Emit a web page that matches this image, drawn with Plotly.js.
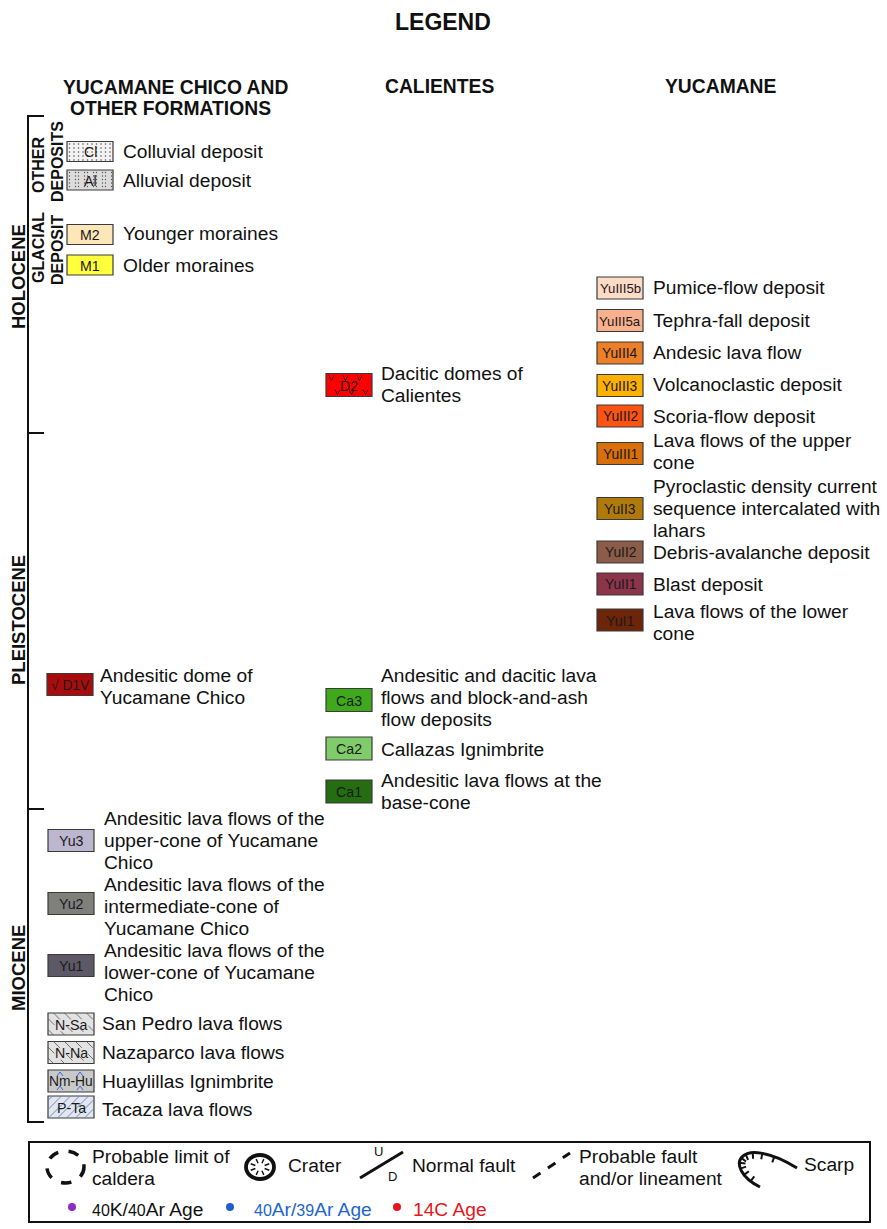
<!DOCTYPE html>
<html>
<head>
<meta charset="utf-8">
<script src="https://cdn.plot.ly/plotly-3.0.1.min.js"></script>
<style>html,body{margin:0;padding:0;background:#fff;}#chart{width:887px;height:1229px;}</style>
</head>
<body>
<div id="chart"></div>
<script>
// ---------- legend content ----------
const titleText = 'LEGEND';
const columnHeaders = ['YUCAMANE CHICO AND<br>OTHER FORMATIONS', 'CALIENTES', 'YUCAMANE'];
const epochs = ['HOLOCENE', 'PLEISTOCENE', 'MIOCENE'];
const subGroups = ['OTHER', 'DEPOSITS', 'GLACIAL', 'DEPOSIT'];

const chicoCodes = ['Cl', 'Al', 'M2', 'M1', 'D1V', 'Yu3', 'Yu2', 'Yu1', 'N-Sa', 'N-Na', 'Nm-Hu', 'P-Ta'];
const chicoLabels = [
  ['Colluvial deposit'], ['Alluvial deposit'], ['Younger moraines'], ['Older moraines'],
  ['Andesitic dome of', 'Yucamane Chico'],
  ['Andesitic lava flows of the', 'upper-cone of Yucamane', 'Chico'],
  ['Andesitic lava flows of the', 'intermediate-cone of', 'Yucamane Chico'],
  ['Andesitic lava flows of the', 'lower-cone of Yucamane', 'Chico'],
  ['San Pedro lava flows'], ['Nazaparco lava flows'], ['Huaylillas Ignimbrite'], ['Tacaza lava flows']
];
const chicoColors = ['#f3f3f3', '#dcdcdc', '#fde7b8', '#ffff3c', '#a80c0c', '#bcb6cf', '#7f7f7c', '#5d5866',
  '#e2e2e2', '#e2e2e2', '#c9c9c9', '#e4e6ee'];

const calientesCodes = ['D2', 'Ca3', 'Ca2', 'Ca1'];
const calientesLabels = [
  ['Dacitic domes of', 'Calientes'],
  ['Andesitic and dacitic lava', 'flows and block-and-ash', 'flow deposits'],
  ['Callazas Ignimbrite'],
  ['Andesitic lava flows at the', 'base-cone']
];
const calientesColors = ['#ff0000', '#3fa81d', '#80cc6b', '#256d11'];

const yucamaneCodes = ['YuIII5b', 'YuIII5a', 'YuIII4', 'YuIII3', 'YuIII2', 'YuIII1', 'YuII3', 'YuII2', 'YuII1', 'YuI1'];
const yucamaneLabels = [
  ['Pumice-flow deposit'], ['Tephra-fall deposit'], ['Andesic lava flow'], ['Volcanoclastic deposit'],
  ['Scoria-flow deposit'], ['Lava flows of the upper', 'cone'],
  ['Pyroclastic density current', 'sequence intercalated with', 'lahars'],
  ['Debris-avalanche deposit'], ['Blast deposit'], ['Lava flows of the lower', 'cone']
];
const yucamaneColors = ['#fddbc7', '#f9b08e', '#ec7f28', '#fbb002', '#fb5312', '#d96f0b', '#b07a0b', '#8b5d49', '#8c344a', '#6d2509'];

const symbolLabels = [['Probable limit of', 'caldera'], ['Crater'], ['Normal fault'], ['Probable fault', 'and/or lineament'], ['Scarp']];
const ageLabels = ['<span style="font-size:16px">40</span>K/<span style="font-size:16px">40</span>Ar Age',
  '<span style="font-size:16px">40</span>Ar/<span style="font-size:16px">39</span>Ar Age', '14C Age'];
const ageColors = ['#8e2cc4', '#1f5fcc', '#e8151b'];
const ageTextColors = ['#111111', '#2166cc', '#e8151b'];

// ---------- layout geometry (pixel positions) ----------
const chicoBoxX = [67, 67, 67, 67, 47, 48, 48, 48, 48, 48, 48, 48];
const chicoBoxY = [151.5, 180, 234.5, 265, 684.5, 840.5, 903.5, 965.5, 1024, 1052.5, 1081, 1107];
const chicoTextX = [122, 122, 122, 122, 99, 103, 103, 103, 101, 101, 101, 101];
const chicoTextY = [151, 180, 233, 265, 686, 840, 906, 972, 1023, 1052, 1081, 1109];
const calBoxY = [385, 700, 748.5, 791.5];
const calTextY = [384, 697, 749, 791];
const yucBoxY = [288, 320.5, 353, 385.5, 416, 453.5, 508.5, 552, 584, 620];
const yucTextY = [287, 320, 352, 384, 416, 451, 508, 552, 584, 622];

const FONT = 'Liberation Sans, Arial, sans-serif';
const LABEL = 19.2;
const shapes = [];
const annotations = [];
const traces = [];
const LH = 22;

function addText(x, y, txt, size, opts) {
  opts = opts || {};
  annotations.push(Object.assign({
    x: x, y: y, xref: 'x', yref: 'y', text: txt, showarrow: false,
    xanchor: 'left', yanchor: 'middle', borderpad: 0,
    font: {family: FONT, size: size, color: '#111111'}
  }, opts));
}
function addLines(x, yc, lines, size, color) {
  const n = lines.length;
  lines.forEach((l, i) => addText(x, yc + (i - (n - 1) / 2) * LH, l, size, {font: {family: FONT, size: size, color: color || '#111111'}}));
}
function line(x0, y0, x1, y1, color, width, dash) {
  shapes.push({type: 'line', xref: 'x', yref: 'y', x0: x0, y0: y0, x1: x1, y1: y1,
    line: {color: color, width: width, dash: dash || 'solid'}});
}
function hatch(x0, y0, x1, y1, s, dir, color, width, dash) {
  if (dir > 0) { // "/"
    for (let c = x0 + y0 + s / 2; c < x1 + y1; c += s) {
      const sx = Math.max(x0, c - y1), ex = Math.min(x1, c - y0);
      if (ex - sx > 1) line(sx, c - sx, ex, c - ex, color, width, dash);
    }
  } else { // "\"
    for (let c = x0 - y1 + s / 2; c < x1 - y0; c += s) {
      const sx = Math.max(x0, c + y0), ex = Math.min(x1, c + y1);
      if (ex - sx > 1) line(sx, sx - c, ex, ex - c, color, width, dash);
    }
  }
}
function box(x, yc, w, h, fill, code, pattern) {
  const x0 = x, x1 = x + w, y0 = yc - h / 2, y1 = yc + h / 2;
  shapes.push({type: 'rect', xref: 'x', yref: 'y', x0: x0, x1: x1, y0: y0, y1: y1,
    fillcolor: fill, line: {color: '#3a3a3a', width: 1.2}, layer: 'below'});
  if (pattern === 'dots' || pattern === 'grid') {
    const xs = [], ys = [];
    const step = pattern === 'dots' ? 4 : 3.5;
    for (let yy = y0 + 2.5; yy < y1 - 1; yy += step) {
      for (let xx = x0 + 2.5; xx < x1 - 1; xx += (pattern === 'dots' ? 4.5 : 3)) {
        if (pattern === 'dots' || Math.round((xx - x0) / 3) % 3 !== 2) { xs.push(xx); ys.push(yy); }
      }
    }
    traces.push({type: 'scatter', mode: 'markers', x: xs, y: ys, hoverinfo: 'skip',
      marker: {size: pattern === 'dots' ? 1.6 : 1.4, color: '#555'}, showlegend: false});
  }
  if (pattern === 'back') hatch(x0, y0, x1, y1, 11, -1, '#555', 0.8, 'dash');
  if (pattern === 'fwd') hatch(x0, y0, x1, y1, 9, 1, '#5b7fc8', 0.9, 'solid');
  if (pattern === 'wave') {
    [x0 + 12, x0 + 32].forEach(cx => {
      line(cx - 3, y0 + 6, cx, y0 + 2, '#3b6fd0', 1, 'solid');
      line(cx, y0 + 2, cx + 3, y0 + 6, '#3b6fd0', 1, 'solid');
      line(cx - 3, y1 - 2, cx, y1 - 6, '#3b6fd0', 1, 'solid');
      line(cx, y1 - 6, cx + 3, y1 - 2, '#3b6fd0', 1, 'solid');
    });
  }
  if (pattern === 'vee') {
    for (let xx = x0 + 3; xx < x1 - 6; xx += 14) {
      line(xx, y0 + 2, xx + 2.5, y0 + 7, '#300', 0.9); line(xx + 2.5, y0 + 7, xx + 5, y0 + 2, '#300', 0.9);
      line(xx + 6, y1 - 7, xx + 8.5, y1 - 2, '#300', 0.9); line(xx + 8.5, y1 - 2, xx + 11, y1 - 7, '#300', 0.9);
    }
  }
  const fs = code.length >= 7 ? 13.2 : (code.length >= 5 ? 13.8 : 14.2);
  annotations.push({x: x + w / 2, y: yc + 0.5, xref: 'x', yref: 'y', text: code, showarrow: false,
    xanchor: 'center', yanchor: 'middle', borderpad: 0,
    font: {family: FONT, size: fs, color: '#1a1a1a'}});
}

// title and headers
addText(443, 22, '<b>' + titleText + '</b>', 23, {xanchor: 'center'});
addText(175, 87, '<b>YUCAMANE CHICO AND</b>', 19.3, {xanchor: 'center'});
addText(170, 108, '<b>OTHER FORMATIONS</b>', 19.3, {xanchor: 'center'});
addText(439, 86, '<b>' + columnHeaders[1] + '</b>', 19.3, {xanchor: 'center'});
addText(721, 86, '<b>' + columnHeaders[2] + '</b>', 19.3, {xanchor: 'center'});

// epoch axis
line(28, 116, 28, 1122, '#111', 2);
[116, 433, 809, 1122].forEach(y => line(27, y, 44, y, '#111', 2));
const epochY = [277, 620, 968];
epochs.forEach((e, i) => addText(18, epochY[i], '<b>' + e + '</b>', 18.5, {xanchor: 'center', textangle: -90}));
const subX = [38, 57, 38, 57], subY = [165, 162, 248, 250];
subGroups.forEach((g, i) => addText(subX[i], subY[i], '<b>' + g + '</b>', 16, {xanchor: 'center', textangle: -90}));

// Yucamane Chico column
const chicoPatterns = ['dots', 'grid', '', '', '', '', '', '', 'back', 'back', 'wave', 'fwd'];
chicoCodes.forEach((c, i) => {
  box(chicoBoxX[i], chicoBoxY[i], 46, i < 4 ? 20 : 22, chicoColors[i], c === 'D1V' ? '√ D1V' : c, chicoPatterns[i]);
  addLines(chicoTextX[i], chicoTextY[i], chicoLabels[i], LABEL);
});
// Calientes column
calientesCodes.forEach((c, i) => {
  box(326, calBoxY[i], 46, 23, calientesColors[i], c, i === 0 ? 'vee' : '');
  addLines(380, calTextY[i], calientesLabels[i], LABEL);
});
// Yucamane column
yucamaneCodes.forEach((c, i) => {
  box(597, yucBoxY[i], 46, 22, yucamaneColors[i], c, '');
  addLines(652, yucTextY[i], yucamaneLabels[i], LABEL);
});

// symbol box
shapes.push({type: 'rect', xref: 'x', yref: 'y', x0: 29, x1: 870, y0: 1142, y1: 1222, line: {color: '#111', width: 2}});
// caldera
shapes.push({type: 'circle', xref: 'x', yref: 'y', x0: 47, x1: 84, y0: 1151, y1: 1183, line: {color: '#111', width: 3.5, dash: 'dash'}});
addLines(91, 1167, symbolLabels[0], LABEL);
// crater
shapes.push({type: 'circle', xref: 'x', yref: 'y', x0: 246, x1: 274, y0: 1155, y1: 1179, line: {color: '#111', width: 3.8}});
for (let k = 0; k < 8; k++) {
  const a = k * Math.PI / 4 + Math.PI / 8;
  line(260 + 5 * Math.cos(a), 1167 + 4 * Math.sin(a), 260 + 10 * Math.cos(a), 1167 + 8.5 * Math.sin(a), '#111', 1.4);
}
addLines(287, 1165, symbolLabels[1], LABEL);
// normal fault
line(360, 1178, 403, 1152, '#111', 3);
addText(378, 1151, 'U', 13, {xanchor: 'center'});
addText(392, 1176, 'D', 13, {xanchor: 'center'});
addLines(411, 1165, symbolLabels[2], LABEL);
// probable fault
line(533, 1178, 570, 1153, '#111', 3, 'dash');
addLines(578, 1167, symbolLabels[3], LABEL);
// scarp
(function () {
  const P = [[760, 1187], [722, 1168], [738, 1132], [797, 1168]];
  const pt = t => {
    const u = 1 - t;
    return [u*u*u*P[0][0] + 3*u*u*t*P[1][0] + 3*u*t*t*P[2][0] + t*t*t*P[3][0],
            u*u*u*P[0][1] + 3*u*u*t*P[1][1] + 3*u*t*t*P[2][1] + t*t*t*P[3][1]];
  };
  shapes.push({type: 'path', xref: 'x', yref: 'y',
    path: `M ${P[0][0]} ${P[0][1]} C ${P[1][0]} ${P[1][1]}, ${P[2][0]} ${P[2][1]}, ${P[3][0]} ${P[3][1]}`,
    line: {color: '#111', width: 3}});
  for (let k = 1; k <= 9; k++) {
    const t = k / 10.5;
    const a = pt(t), b = pt(t + 0.01);
    const dx = b[0] - a[0], dy = b[1] - a[1], L = Math.hypot(dx, dy);
    const nx = -dy / L, ny = dx / L;
    line(a[0], a[1], a[0] + nx * 6, a[1] + ny * 6, '#111', 2);
  }
})();
addLines(803, 1164, symbolLabels[4], LABEL);
// age markers
const ageDotX = [72, 230, 397];
const ageTextX = [91, 253, 412];
traces.push({type: 'scatter', mode: 'markers', x: ageDotX, y: [1207, 1207, 1207], hoverinfo: 'skip',
  marker: {size: 8, color: ageColors}, showlegend: false});
ageLabels.forEach((t, i) => addText(ageTextX[i], 1209, t, LABEL, {font: {family: FONT, size: LABEL, color: ageTextColors[i]}}));

Plotly.newPlot('chart', traces, {
  width: 887, height: 1229,
  margin: {l: 0, r: 0, t: 0, b: 0, pad: 0},
  paper_bgcolor: '#ffffff', plot_bgcolor: '#ffffff',
  xaxis: {range: [0, 887], visible: false, fixedrange: true},
  yaxis: {range: [1229, 0], visible: false, fixedrange: true},
  shapes: shapes, annotations: annotations, showlegend: false
}, {staticPlot: true, displayModeBar: false});
</script>
</body>
</html>
